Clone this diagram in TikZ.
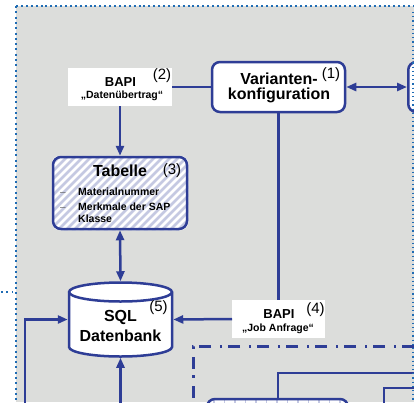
\documentclass[tikz,border=0pt]{standalone}
\usepackage{fontspec}
\setmainfont{Liberation Sans}
\usetikzlibrary{arrows.meta}
\definecolor{bg}{HTML}{DCDDDB}
\definecolor{lb}{HTML}{2E3D96}
\definecolor{dotb}{HTML}{1F6CB4}
\definecolor{hatch}{HTML}{C5C9E2}
\begin{document}
\begin{tikzpicture}[x=1pt,y=-1pt,
  conn/.style={draw=lb, line width=2.5pt},
  tip/.style={-{Triangle[length=10pt,width=8pt]}},
  dtip/.style={{Triangle[length=10pt,width=8pt]}-{Triangle[length=10pt,width=8pt]}},
  roundbox/.style={draw=lb, line width=2.5pt, rounded corners=8pt, fill=white},
  bapibox/.style={fill=white, inner sep=0pt, outer sep=0pt},
  plain/.style={inner sep=0pt, outer sep=1.25pt},
  num/.style={font=\fontsize{15}{15}\selectfont, inner sep=0pt},
  big/.style={font=\bfseries\fontsize{16}{16}\selectfont, inner sep=0pt, anchor=base},
  bapit/.style={font=\bfseries\fontsize{13}{13}\selectfont, inner sep=0pt, anchor=base},
  small/.style={font=\bfseries\fontsize{10.5}{10.5}\selectfont, inner sep=0pt, anchor=base},
  item/.style={font=\bfseries\fontsize{10.5}{10.5}\selectfont, inner sep=0pt, anchor=base west},
  dotline/.style={dotb, line width=2pt},
]
\useasboundingbox (0,0) rectangle (414,402);
\clip (0,0) rectangle (414,402);
\fill[bg] (16,6) rectangle (414,402);

% boxes
\node[roundbox, minimum width=133pt, minimum height=50pt, inner sep=0pt] (var) at (278.5,87) {};
\node[big] (vart1) at (279,84) {Varianten-};
\node[big] (vart2) at (279,99.5) {konfiguration};
\node[num] (n1) at (331,75) {(1)};

\node[roundbox, minimum width=70pt, minimum height=50pt, anchor=west, inner sep=0pt] (rbox) at (407,87) {};

\node[bapibox, minimum width=104pt, minimum height=38pt] (bapi2) at (120,87) {};
\node[bapit] (bapi2a) at (120.5,86) {BAPI};
\node[small] (bapi2b) at (122,98.5) {„Datenübertrag“};
\node[num] (n2) at (162,76) {(2)};

% Tabelle
\node[plain, minimum width=134pt, minimum height=72pt] (tab) at (120,193) {};
\begin{scope}
  \clip[rounded corners=8pt] (tab.south west) rectangle (tab.north east);
  \fill[white] (40,150) rectangle (200,240);
  \foreach \i in {-40,-32,...,200} \draw[hatch, line width=2.6pt] (\i,240) -- ++(90,-90);
\end{scope}
\draw[draw=lb, line width=2.5pt, rounded corners=8pt] (53,229) rectangle (187,157);
\node[big] (tabt) at (120,176) {Tabelle};
\node[num] (n3) at (172,170.5) {(3)};
\node[item, font=\fontsize{10}{10}\selectfont, text=black!60] (d1) at (60,195) {–};
\node[item] (i1) at (78,195) {Materialnummer};
\node[item, font=\fontsize{10}{10}\selectfont, text=black!60] (d2) at (60,210) {–};
\node[item] (i2) at (78,210) {Merkmale der SAP};
\node[item] (i3) at (78,222) {Klasse};

% SQL cylinder
\node[plain, minimum width=103pt, minimum height=74pt] (sql) at (120.5,319.5) {};
\filldraw[fill=white, draw=lb, line width=2.5pt]
  (69,292) -- (69,347) arc[start angle=180, end angle=360, x radius=51.5pt, y radius=9.5pt]
  -- (172,292) arc[start angle=0, end angle=180, x radius=51.5pt, y radius=9.5pt] -- cycle;
\draw[draw=lb, line width=2.5pt] (172,292) arc[start angle=0, end angle=-180, x radius=51.5pt, y radius=9.5pt];
\node[big] (sqlt1) at (120.5,321) {SQL};
\node[big] (sqlt2) at (120.5,341) {Datenbank};
\node[num] (n5) at (158.5,308) {(5)};

% BAPI 4
\node[bapibox, minimum width=93pt, minimum height=38pt] (bapi4) at (278.5,319) {};
\node[bapit] (bapi4a) at (279,318) {BAPI};
\node[small] (bapi4b) at (278,331.5) {„Job Anfrage“};
\node[num] (n4) at (315.5,310) {(4)};

% connectors
\draw[conn] (bapi2.east) -- (var.west);
\draw[conn, dtip] (var.east) -- (rbox.west);
\draw[conn, tip] (bapi2.south) -- (tab.north);
\draw[conn, dtip] (tab.south) -- (sql.north);
\draw[conn] (var.south) -- (bapi4.north);
\draw[conn, tip] (bapi4.west) -- (sql.east);
\coordinate (lin) at (25,410);
\draw[conn, tip] (lin) |- (sql.west);
\coordinate (bin) at (120.5,410);
\draw[conn, tip] (bin) -- (sql.south);

% dash-dot boundary
\draw[lb, line width=3pt, dash pattern=on 12pt off 6pt on 2.5pt off 8.5pt] (414,346) -- (193,346) -- (193,410);

% bottom right
\begin{scope}
  \clip[rounded corners=8pt] (207,399) rectangle (348,440);
  \fill[white] (200,390) rectangle (350,440);
  \foreach \x in {214,224.5,...,345} \draw[hatch, line width=1.5pt] (\x,395) -- (\x,440);
\end{scope}
\draw[draw=lb, line width=2.5pt, rounded corners=8pt] (207,440) rectangle (348,399);
\coordinate (r1) at (420,373);
\coordinate (r1b) at (278,399);
\draw[conn] (r1) -| (r1b);
\coordinate (r2) at (420,388);
\coordinate (r2b) at (384,410);
\draw[conn] (r2) -| (r2b);

% dotted borders
\draw[dotline, dash pattern=on 2pt off 2.9pt] (16,6) -- (414,6);
\draw[dotline, dash pattern=on 2pt off 3.3pt] (16,6) -- (16,402);
\draw[dotline, dash pattern=on 2pt off 3.4pt] (1,292) -- (13,292);
\draw[dotb, line width=1.2pt, dash pattern=on 1.2pt off 3pt] (413,12) -- (413,402);
\end{tikzpicture}
\end{document}
